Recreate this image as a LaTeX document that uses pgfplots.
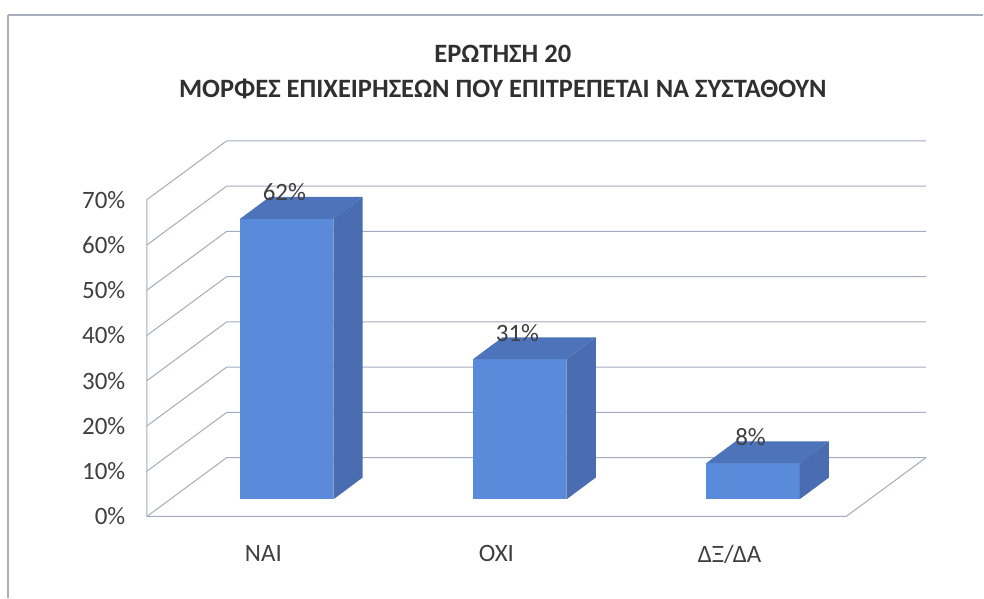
\documentclass[border=0pt]{standalone}
\usepackage{fontspec}
\setmainfont{Carlito}
\usepackage{pgfplots}
\pgfplotsset{compat=1.18}
\definecolor{barfront}{HTML}{5A8ADA}
\definecolor{bartop}{HTML}{4D73BA}
\definecolor{barside}{HTML}{4A6CB0}
\definecolor{gridc}{HTML}{A4ACC0}
\definecolor{txt}{HTML}{404040}
\definecolor{ttl}{HTML}{303030}
\definecolor{framec}{HTML}{A8B0C0}
\begin{document}
\begin{tikzpicture}[x=1pt,y=1pt]
\fill[white] (0,0) rectangle (984,599);
\draw[framec, line width=2pt] (8,584) -- (984,584);
\draw[framec, line width=1.2pt] (8,584) -- (8,0);
\begin{axis}[
  at={(147pt,82pt)}, anchor=south west,
  scale only axis, width=700pt, height=317.1pt,
  xmin=-0.5, xmax=2.5, ymin=0, ymax=70,
  clip=false,
  axis line style={draw=none},
  major tick length=0pt,
  xtick={0,1,2},
  xticklabels={ΝΑΙ, ΌΧΙ, ΔΞ/ΔΑ},
  ytick={0,10,20,30,40,50,60,70},
  yticklabel={\pgfmathprintnumber{\tick}\%},
  /pgf/number format/assume math mode=true,
  tick label style={font=\fontsize{25}{30}\selectfont, text=txt},
  yticklabel style={xshift=-18pt},
  xticklabel style={yshift=-25pt},
  title={ΕΡΩΤΗΣΗ 20\\ΜΟΡΦΕΣ ΕΠΙΧΕΙΡΗΣΕΩΝ ΠΟΥ ΕΠΙΤΡΕΠΕΤΑΙ ΝΑ ΣΥΣΤΑΘΟΥΝ},
  title style={at={(axis description cs:0.509,1.385)}, anchor=center, align=center,
    font=\bfseries\fontsize{26.5}{35}\selectfont, text=ttl},
]
% walls and floor
\pgfplotsinvokeforeach{0,10,20,30,40,50,60,70}{
  \draw[gridc, line width=1pt] (axis cs:-0.5,#1) -- (axis cs:-0.157,{#1+13.02}) -- (axis cs:2.843,{#1+13.02});
}
\draw[gridc, line width=1pt] (axis cs:-0.5,70) -- (axis cs:-0.5,0) -- (axis cs:2.5,0) -- (axis cs:2.843,13.02);

% bar 1: 62
\addplot[fill=barfront, draw=none] coordinates {(-0.1,3.78) (0.3,3.78) (0.3,65.78) (-0.1,65.78)};
\addplot[fill=bartop, draw=none] coordinates {(-0.1,65.78) (0.3,65.78) (0.426,70.6) (0.026,70.6)};
\addplot[fill=barside, draw=none] coordinates {(0.3,3.78) (0.426,8.6) (0.426,70.6) (0.3,65.78)};
% bar 2: 31
\addplot[fill=barfront, draw=none] coordinates {(0.9,3.78) (1.3,3.78) (1.3,34.78) (0.9,34.78)};
\addplot[fill=bartop, draw=none] coordinates {(0.9,34.78) (1.3,34.78) (1.426,39.6) (1.026,39.6)};
\addplot[fill=barside, draw=none] coordinates {(1.3,3.78) (1.426,8.6) (1.426,39.6) (1.3,34.78)};
% bar 3: 8
\addplot[fill=barfront, draw=none] coordinates {(1.9,3.78) (2.3,3.78) (2.3,11.78) (1.9,11.78)};
\addplot[fill=bartop, draw=none] coordinates {(1.9,11.78) (2.3,11.78) (2.426,16.6) (2.026,16.6)};
\addplot[fill=barside, draw=none] coordinates {(2.3,3.78) (2.426,8.6) (2.426,16.6) (2.3,11.78)};

% value labels
\addplot[draw=none, point meta=explicit,
  nodes near coords={\pgfmathprintnumber{\pgfplotspointmeta}\%},
  every node near coord/.append style={anchor=center, inner sep=0pt, font=\fontsize{25}{30}\selectfont, text=txt}]
  coordinates {(0.09,71.6) [62] (1.09,40.6) [31] (2.09,17.6) [8]};
\end{axis}
\end{tikzpicture}
\end{document}
